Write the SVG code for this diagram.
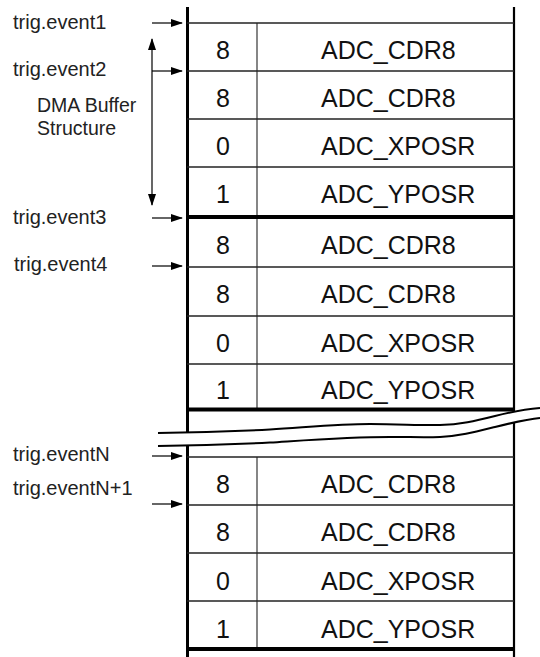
<svg xmlns="http://www.w3.org/2000/svg" width="540" height="657" viewBox="0 0 540 657">
<style>
.lbl{font-family:"Liberation Sans",Arial,sans-serif;font-size:20px;fill:#222}
.lbl2{font-family:"Liberation Sans",Arial,sans-serif;font-size:19.5px;fill:#222}
.num{font-family:"Liberation Sans",Arial,sans-serif;font-size:25px;fill:#111;text-anchor:middle}
.reg{font-family:"Liberation Sans",Arial,sans-serif;font-size:25px;fill:#111}
.row{stroke:#222;stroke-width:1.4;fill:none}
.thick{stroke:#000;stroke-width:4;fill:none}
.div{stroke:#444;stroke-width:1.3;fill:none}
.vl{stroke:#000;stroke-width:3;fill:none}
.vr{stroke:#000;stroke-width:2.2;fill:none}
.arr{stroke:#000;stroke-width:1.2;fill:none;marker-end:url(#ah)}
.wave{stroke:#000;stroke-width:2;fill:none}
</style>
<defs>
<marker id="ah" markerWidth="12" markerHeight="8" refX="11" refY="4" orient="auto-start-reverse" markerUnits="userSpaceOnUse"><path d="M0,0 L12,4 L0,8 z" fill="#000"/></marker>
</defs>

<g id="frame">
<line class="vl" x1="187.5" y1="7" x2="187.5" y2="657"/>
<line class="vr" x1="514" y1="7" x2="514" y2="657"/>
<line class="div" x1="257" y1="23" x2="257" y2="409"/>
<line class="div" x1="257" y1="457" x2="257" y2="649"/>
<line class="row" x1="187" y1="23" x2="514" y2="23"/>
<line class="row" x1="187" y1="457" x2="514" y2="457"/>
</g>

<g id="block1">
<g id="b1r1"><line class="row" x1="187" y1="71" x2="514" y2="71"/><text class="num" x="223" y="59">8</text><text class="reg" x="321" y="59">ADC_CDR8</text></g>
<g id="b1r2"><line class="row" x1="187" y1="119" x2="514" y2="119"/><text class="num" x="223" y="107">8</text><text class="reg" x="321" y="107">ADC_CDR8</text></g>
<g id="b1r3"><line class="row" x1="187" y1="167" x2="514" y2="167"/><text class="num" x="223" y="155">0</text><text class="reg" x="321" y="155">ADC_XPOSR</text></g>
<g id="b1r4"><line class="thick" x1="187" y1="217" x2="514" y2="217"/><text class="num" x="223" y="203">1</text><text class="reg" x="321" y="203">ADC_YPOSR</text></g>
</g>

<g id="block2">
<g id="b2r1"><line class="row" x1="187" y1="267" x2="514" y2="267"/><text class="num" x="223" y="254">8</text><text class="reg" x="321" y="254">ADC_CDR8</text></g>
<g id="b2r2"><line class="row" x1="187" y1="316" x2="514" y2="316"/><text class="num" x="223" y="303">8</text><text class="reg" x="321" y="303">ADC_CDR8</text></g>
<g id="b2r3"><line class="row" x1="187" y1="364" x2="514" y2="364"/><text class="num" x="223" y="352">0</text><text class="reg" x="321" y="352">ADC_XPOSR</text></g>
<g id="b2r4"><line class="thick" x1="187" y1="409.5" x2="514" y2="409.5"/><text class="num" x="223" y="399">1</text><text class="reg" x="321" y="399">ADC_YPOSR</text></g>
</g>

<g id="block3">
<g id="b3r1"><line class="row" x1="187" y1="505" x2="514" y2="505"/><text class="num" x="223" y="493">8</text><text class="reg" x="321" y="493">ADC_CDR8</text></g>
<g id="b3r2"><line class="row" x1="187" y1="553" x2="514" y2="553"/><text class="num" x="223" y="541">8</text><text class="reg" x="321" y="541">ADC_CDR8</text></g>
<g id="b3r3"><line class="row" x1="187" y1="601" x2="514" y2="601"/><text class="num" x="223" y="590">0</text><text class="reg" x="321" y="590">ADC_XPOSR</text></g>
<g id="b3r4"><line class="thick" x1="187" y1="649" x2="514" y2="649"/><text class="num" x="223" y="638">1</text><text class="reg" x="321" y="638">ADC_YPOSR</text></g>
</g>

<g id="break">
<path fill="#fff" stroke="none" d="M158,433 C200,432.5 240,431 270,429.5 C310,427 340,424 370,424 C400,424 420,425.5 440,425 C460,424.5 475,421 495,416 C515,411 528,409 540,408 L540,418 C528,419 515,422 495,427 C475,432 460,436 440,437 C425,437.5 410,437 390,437 C350,437 310,440 270,442.5 C240,444 200,445.5 158,446 Z"/>
<path class="wave" d="M158,433 C200,432.5 240,431 270,429.5 C310,427 340,424 370,424 C400,424 420,425.5 440,425 C460,424.5 475,421 495,416 C515,411 528,409 540,408"/>
<path class="wave" d="M158,446 C200,445.5 240,444 270,442.5 C310,440 350,437 390,437 C410,437 425,437.5 440,437 C460,436 475,432 495,427 C515,422 528,419 540,418"/>
</g>

<g id="labels">
<text class="lbl" x="13" y="29">trig.event1</text>
<text class="lbl" x="13" y="76">trig.event2</text>
<text class="lbl2" x="37" y="112">DMA Buffer</text>
<text class="lbl2" x="37" y="134.5">Structure</text>
<text class="lbl" x="13" y="224">trig.event3</text>
<text class="lbl" x="14" y="271">trig.event4</text>
<text class="lbl" x="13" y="461">trig.eventN</text>
<text class="lbl" x="13" y="495">trig.eventN+1</text>
</g>

<g id="connectors">
<line class="arr" x1="152" y1="23" x2="182" y2="23"/>
<line class="arr" x1="152" y1="71" x2="182" y2="71"/>
<line class="arr" x1="152" y1="218" x2="182" y2="218"/>
<line class="arr" x1="152" y1="266" x2="182" y2="266"/>
<line class="arr" x1="152" y1="456" x2="182" y2="456"/>
<line class="arr" x1="152" y1="504" x2="182" y2="504"/>
<line class="arr" x1="152" y1="39" x2="152" y2="205" style="marker-start:url(#ah)"/>
</g>
</svg>
